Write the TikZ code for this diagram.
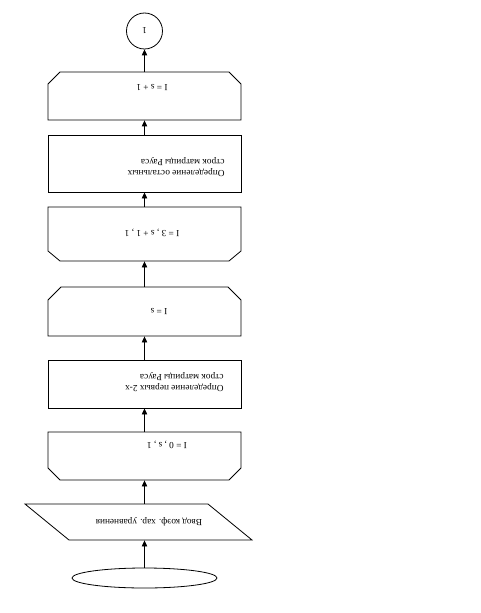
\documentclass[tikz,border=0pt]{standalone}
\usepackage{fontspec}
\setmainfont{Liberation Serif}
\usetikzlibrary{arrows.meta, shapes.geometric}

\begin{document}
\begin{tikzpicture}[x=0.75pt, y=0.75pt, rotate=180, transform shape, line width=0.6pt,
  every node/.style={font=\fontsize{7}{8.2}\selectfont, inner sep=0pt},
  blk/.style={rectangle, minimum width=144.75pt, minimum height=36pt},
  frm/.style={font=\fontsize{7}{8.2}\selectfont\addfontfeature{LetterSpace=25}},
  arr/.style={-{Triangle[length=4.5pt, width=4pt]}}]
  \useasboundingbox (0,0) rectangle (481,613);
  % blocks, upright order from top to bottom
  \node[draw, ellipse, minimum width=108.75pt, minimum height=15pt] (start) at (336.5,578) {};
  \node[minimum width=100pt, minimum height=27pt] (input) at (342.5,522) {};
  \node[blk] (loopa) at (336.5,456) {};
  \node[blk, draw] (first) at (336.5,384) {};
  \node[blk, minimum height=36.75pt] (loopaend) at (336.5,311.5) {};
  \node[blk, minimum height=40.5pt] (loopb) at (336.5,234) {};
  \node[blk, draw, minimum height=42.75pt] (rest) at (336.5,163.5) {};
  \node[blk] (loopbend) at (336.5,96) {};
  \node[draw, circle, minimum size=27pt] (conn) at (336.5,31) {1};
  % outlines of the input and loop blocks
  \draw (229,540) -- (412,540) -- (456,504) -- (273,504) -- cycle;
  \draw (240,432) -- (240,468) -- (252,480) -- (421,480) -- (433,468) -- (433,432) -- cycle;
  \draw (240,336) -- (240,300) -- (253,287) -- (420,287) -- (433,300) -- (433,336) -- cycle;
  \draw (240,207) -- (240,251) -- (252,261) -- (421,261) -- (433,251) -- (433,207) -- cycle;
  \draw (240,120) -- (240,84) -- (252,72) -- (421,72) -- (433,84) -- (433,120) -- cycle;
  % texts
  \node at (332,522) {Ввод коэф. хар. уравнения};
  \node[frm] at (314,445) {I=0,s,1};
  \node[anchor=west, align=left] at (257,382.5) {Определение первых 2-х\\строк матрицы Рауса};
  \node[frm] at (322,312) {I=s};
  \node[frm] at (329,233) {I=3,s+1,1};
  \node[anchor=west, align=left] at (256,167.5) {Определение остальных\\строк матрицы Рауса};
  \node[frm] at (329,88) {I=s+1};
  % connectors
  \draw[arr] (start.south) -- (start.south |- input.north);
  \draw[arr] (input.south -| loopa) -- (loopa);
  \draw[arr] (loopa) -- (first);
  \draw[arr] (first) -- (loopaend);
  \draw[arr] (loopaend) -- (loopb);
  \draw[arr] (loopb) -- (rest);
  \draw[arr] (rest) -- (loopbend);
  \draw[arr] (loopbend) -- (conn);
\end{tikzpicture}
\end{document}
